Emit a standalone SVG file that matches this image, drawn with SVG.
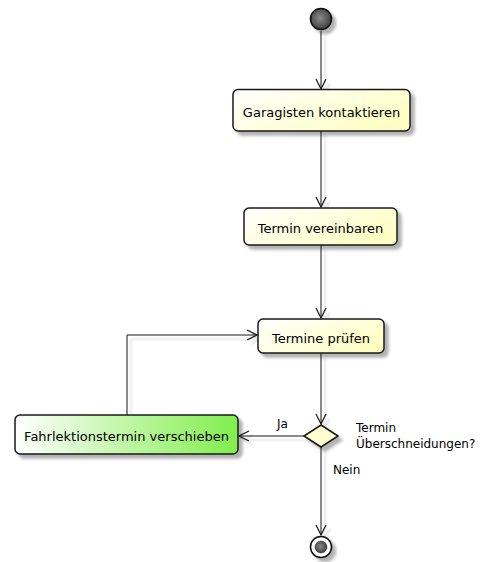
<svg xmlns="http://www.w3.org/2000/svg" width="485" height="562" viewBox="0 0 485 562">
<defs>
<filter id="sh" x="-20%" y="-20%" width="150%" height="150%">
<feDropShadow dx="4" dy="4" stdDeviation="1.5" flood-color="#000" flood-opacity="0.3"/>
</filter>
<filter id="lsh" filterUnits="userSpaceOnUse" x="0" y="0" width="485" height="562">
<feDropShadow dx="4" dy="4" stdDeviation="0.8" flood-color="#000" flood-opacity="0.18"/>
</filter>
<linearGradient id="yel" x1="0" y1="0" x2="1" y2="0.6">
<stop offset="0" stop-color="#ffffff"/>
<stop offset="1" stop-color="#fefec4"/>
</linearGradient>
<linearGradient id="grn" x1="0" y1="0" x2="1" y2="0">
<stop offset="0" stop-color="#ffffff"/>
<stop offset="1" stop-color="#80ee4c"/>
</linearGradient>
<radialGradient id="dot" cx="0.45" cy="0.45" r="0.6">
<stop offset="0" stop-color="#8a8a8a"/>
<stop offset="1" stop-color="#3a3a3a"/>
</radialGradient>
<marker id="arr" viewBox="0 0 12 12" refX="11" refY="6" markerWidth="12" markerHeight="12" markerUnits="userSpaceOnUse" orient="auto">
<path d="M1,1 L11,6 L1,11" fill="none" stroke="#181818" stroke-width="1.2"/>
</marker>
<style>
.box{stroke:#181818;stroke-width:1.5;filter:url(#sh)}
.lbl{font-family:"DejaVu Sans",sans-serif;font-size:12px;fill:#000}
.nl{font-family:"DejaVu Sans",sans-serif;font-size:13px;fill:#000;text-anchor:middle}
.ln{fill:none;stroke:#181818;stroke-width:1;marker-end:url(#arr);filter:url(#lsh)}
</style>
</defs>
<g id="connectors">
<path class="ln" d="M321,31 V89"/>
<path class="ln" d="M321,131 V207"/>
<path class="ln" d="M321,245 V318"/>
<path class="ln" d="M321,353 V424"/>
<path class="ln" d="M321,447 V535"/>
<path class="ln" d="M304,436 H239"/>
<path class="ln" d="M127,415 V335 H257"/>
<text class="lbl" x="277" y="428">Ja</text>
<text class="lbl" x="333" y="474">Nein</text>
</g>
<g id="start">
<circle cx="321" cy="19" r="10.5" fill="url(#dot)" stroke="#111" stroke-width="1.5" filter="url(#sh)"/>
</g>
<g id="n1">
<rect class="box" x="233" y="89.5" width="177" height="41.5" rx="5" fill="url(#yel)"/>
<text class="nl" x="321.5" y="117">Garagisten kontaktieren</text>
</g>
<g id="n2">
<rect class="box" x="244" y="208" width="153" height="37" rx="5" fill="url(#yel)"/>
<text class="nl" x="320.5" y="233">Termin vereinbaren</text>
</g>
<g id="n3">
<rect class="box" x="258" y="319" width="126" height="34" rx="5" fill="url(#yel)"/>
<text class="nl" x="321" y="342.5">Termine prüfen</text>
</g>
<g id="n4">
<rect class="box" x="15" y="415" width="223" height="39" rx="5" fill="url(#grn)"/>
<text class="nl" x="126.5" y="441">Fahrlektionstermin verschieben</text>
</g>
<g id="decision">
<polygon class="box" points="321,425 338,436 321,447 304,436" fill="#fefece"/>
<text class="lbl" x="356" y="432">Termin</text>
<text class="lbl" x="356" y="448">Überschneidungen?</text>
</g>
<g id="end">
<circle cx="321" cy="547" r="10.5" fill="#fff" stroke="#111" stroke-width="1.5" filter="url(#sh)"/>
<circle cx="321" cy="547" r="6" fill="url(#dot)" stroke="#222" stroke-width="0.5"/>
</g>
</svg>
